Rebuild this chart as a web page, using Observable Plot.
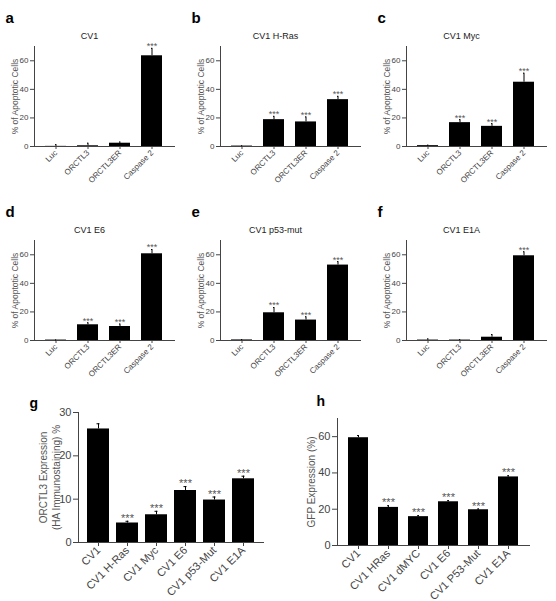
<!DOCTYPE html>
<html>
<head>
<meta charset="utf-8">
<script src="https://cdn.jsdelivr.net/npm/d3@7"></script>
<script src="https://cdn.jsdelivr.net/npm/@observablehq/plot@0.6"></script>
<style>
  html, body { margin: 0; padding: 0; background: #fff; }
  #fig { position: relative; width: 556px; height: 601px; background: #fff; overflow: hidden; }
  #fig svg { position: absolute; background: transparent; }
</style>
</head>
<body>
<div id="fig"></div>
<script>
// ---- Data ----
const smallCategories = ["Luc", "ORCTL3", "ORCTL3ER", "Caspase 2"];
const smallYTicks = [0, 20, 40, 60];
const smallYLabel = "% of Apoptotic Cells";

const panelLetters = ["a", "b", "c", "d", "e", "f"];
const panelTitles = ["CV1", "CV1 H-Ras", "CV1 Myc", "CV1 E6", "CV1 p53-mut", "CV1 E1A"];

const cv1Values      = [0.1, 0.5, 2.3, 63.5];
const cv1Errors      = [1.2, 1.8, 0.8, 5.2];
const cv1Stars       = ["", "", "", "***"];

const hrasValues     = [0.3, 18.8, 17.2, 32.8];
const hrasErrors     = [0.2, 2.3, 3.5, 2.3];
const hrasStars      = ["", "***", "***", "***"];

const mycValues      = [0.6, 16.7, 14.1, 45.0];
const mycErrors      = [0.3, 2.1, 1.9, 6.3];
const mycStars       = ["", "***", "***", "***"];

const e6Values       = [0.3, 11.0, 9.8, 60.7];
const e6Errors       = [0.1, 1.4, 1.7, 3.0];
const e6Stars        = ["", "***", "***", "***"];

const p53Values      = [0.4, 19.4, 14.3, 52.8];
const p53Errors      = [0.2, 3.7, 2.3, 2.4];
const p53Stars       = ["", "***", "***", "***"];

const e1aValues      = [0.3, 0.3, 2.3, 59.3];
const e1aErrors      = [0.8, 0.3, 1.9, 2.8];
const e1aStars       = ["", "", "", "***"];

const gCategories = ["CV1", "CV1 H-Ras", "CV1 Myc", "CV1 E6", "CV1 p53-Mut", "CV1 E1A"];
const gValues     = [26.2, 4.5, 6.4, 12.0, 9.8, 14.7];
const gErrors     = [1.2, 0.4, 0.8, 0.9, 0.7, 0.6];
const gStars      = ["", "***", "***", "***", "***", "***"];
const gYTicks     = [0, 10, 20, 30];
const gYLabel     = "ORCTL3 Expression\n(HA Immunostaining) %";

const hCategories = ["CV1", "CV1 HRas", "CV1 dMYC", "CV1 E6", "CV1 P53-Mut", "CV1 E1A"];
const hValues     = [59.4, 21.0, 15.9, 24.1, 19.7, 37.8];
const hErrors     = [1.2, 0.9, 0.5, 0.6, 0.4, 0.6];
const hStars      = ["", "***", "***", "***", "***", "***"];
const hYTicks     = [0, 20, 40, 60];
const hYLabel     = "GFP Expression (%)";

// ---- Drawing ----
const FONT = "'Liberation Sans', Arial, Helvetica, sans-serif";
const fig = document.getElementById("fig");

function rows(cats, values, errors, stars) {
  return cats.map((c, i) => ({cat: c, v: values[i], e: errors[i], top: values[i] + errors[i], s: stars[i]}));
}

function barPanel(opts) {
  const data = rows(opts.cats, opts.values, opts.errors, opts.stars);
  const svg = Plot.plot({
    width: opts.width, height: opts.height,
    marginLeft: opts.ml, marginRight: opts.mr, marginTop: opts.mt, marginBottom: opts.mb,
    style: {fontFamily: FONT, fontSize: opts.tickFont + "px", color: "#444", background: "transparent"},
    x: {domain: opts.cats, padding: opts.padding, label: null, tickRotate: -45, tickSize: opts.tickSize, tickPadding: 2, line: true},
    y: {domain: opts.domain, ticks: opts.yTicks, tickSize: opts.tickSize + 1, tickPadding: 2, label: null, line: true},
    marks: [
      Plot.barY(data, {x: "cat", y: "v", fill: "#000"}),
      Plot.ruleX(data, {x: "cat", y1: "v", y2: "top", stroke: "#000", strokeWidth: 1}),
      Plot.tickY(data, {x: "cat", y: "top", stroke: "#000", strokeWidth: 1, insetLeft: opts.capInset, insetRight: opts.capInset}),
      Plot.text(data, {x: "cat", y: "top", text: "s", dy: opts.starDy, fill: "#555", fontSize: opts.starFont}),
      ...(opts.title ? [Plot.text([opts.title], {frameAnchor: "top", text: d => d, dx: opts.titleDx, dy: opts.titleDy, fontSize: opts.titleFont, fill: "#222"})] : []),
      Plot.text([opts.letter], {frameAnchor: "top-left", text: d => d, dx: opts.letterDx, dy: opts.letterDy, textAnchor: "start", fontSize: opts.letterFont, fontWeight: "bold", fill: "#000"}),
      Plot.text([opts.yLabel], {frameAnchor: "left", text: d => d, rotate: -90, textAnchor: "middle", lineAnchor: "middle", dx: opts.yLabelDx, fontSize: opts.yLabelFont, lineHeight: opts.lineHeight || 1, fill: "#555"})
    ]
  });
  svg.style.left = opts.left + "px";
  svg.style.top = opts.top + "px";
  fig.appendChild(svg);
}

const smallSets = [
  [cv1Values, cv1Errors, cv1Stars],
  [hrasValues, hrasErrors, hrasStars],
  [mycValues, mycErrors, mycStars],
  [e6Values, e6Errors, e6Stars],
  [p53Values, p53Errors, p53Stars],
  [e1aValues, e1aErrors, e1aStars]
];
const smallLefts = [0, 186, 372];
const smallTops = [0, 194];

smallSets.forEach(([values, errors, stars], i) => {
  barPanel({
    cats: smallCategories, values, errors, stars,
    left: smallLefts[i % 3], top: smallTops[Math.floor(i / 3)],
    width: 184, height: 195, ml: 34, mr: 10, mt: 46, mb: 49,
    padding: 0.33, domain: [0, 70], yTicks: smallYTicks,
    tickFont: 8, tickSize: 3, capInset: 11, starDy: -2, starFont: 9,
    title: panelTitles[i], titleDx: -15, titleDy: -14, titleFont: 9,
    letter: panelLetters[i], letterDx: -29, letterDy: -34, letterFont: 15,
    yLabel: smallYLabel, yLabelDx: -19, yLabelFont: 8.5
  });
});

barPanel({
  cats: gCategories, values: gValues, errors: gErrors, stars: gStars,
  left: 0, top: 390, width: 278, height: 211, ml: 78, mr: 15, mt: 22, mb: 59,
  padding: 0.25, domain: [0, 30], yTicks: gYTicks,
  tickFont: 11, tickSize: 4, capInset: 9.5, starDy: -3, starFont: 11,
  letter: "g", letterDx: -49, letterDy: -14.5, letterFont: 14,
  yLabel: gYLabel, yLabelDx: -29.5, yLabelFont: 10, lineHeight: 1.3
});

barPanel({
  cats: hCategories, values: hValues, errors: hErrors, stars: hStars,
  left: 278, top: 390, width: 278, height: 211, ml: 59, mr: 27, mt: 28, mb: 56,
  padding: 0.33, domain: [0, 70], yTicks: hYTicks,
  tickFont: 11, tickSize: 4, capInset: 11, starDy: -3, starFont: 11,
  letter: "h", letterDx: -21, letterDy: -22, letterFont: 14,
  yLabel: hYLabel, yLabelDx: -26, yLabelFont: 10
});
</script>
</body>
</html>
